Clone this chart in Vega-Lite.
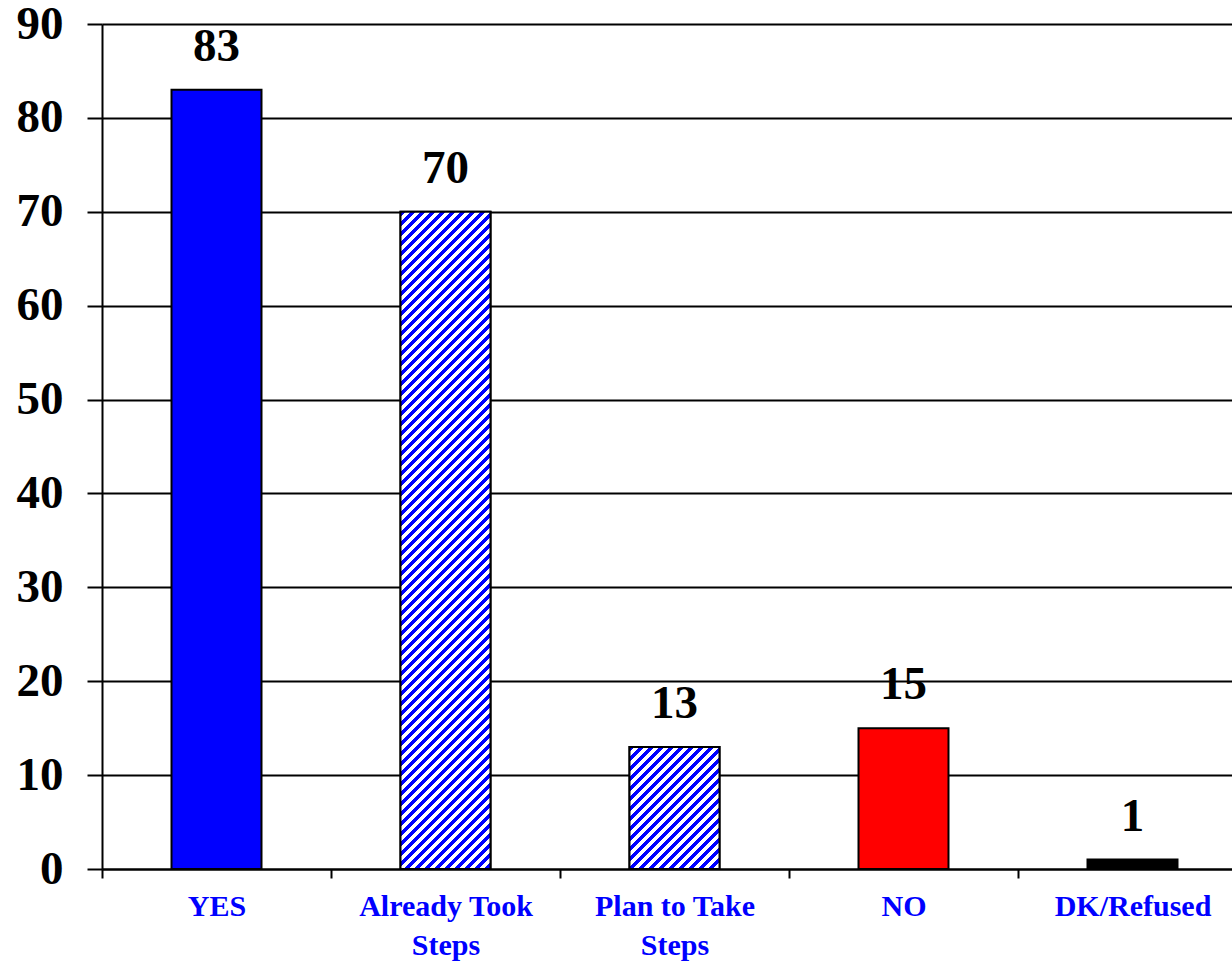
{
  "$schema": "https://vega.github.io/schema/vega-lite/v6.json",
  "autosize": {"type": "none"},
  "padding": {"left": 102, "top": 24, "right": 0, "bottom": 93},
  "width": 1130,
  "height": 845,
  "background": "white",
  "config": {"view": {"stroke": null}},
  "data": {"values": [
    {"category": "YES", "value": 83},
    {"category": "Already Took Steps", "value": 70},
    {"category": "Plan to Take Steps", "value": 13},
    {"category": "NO", "value": 15},
    {"category": "DK/Refused", "value": 1}
  ]},
  "encoding": {
    "x": {
      "field": "category", "type": "nominal", "sort": null,
      "scale": {"range": [0, 1145], "paddingInner": 0.607, "paddingOuter": 0.3035},
      "axis": {
        "title": null, "labelAngle": 0, "tickOffset": -114.5, "labelOffset": 114.5,
        "domainColor": "black", "domainWidth": 2,
        "tickColor": "black", "tickWidth": 2, "tickSize": 9,
        "labelFont": "Liberation Serif", "labelFontWeight": "bold", "labelFontSize": 30,
        "labelColor": "#0000ff", "labelPadding": 13, "labelLineHeight": 39,
        "labelExpr": "datum.value == 'Already Took Steps' ? ['Already Took', 'Steps'] : datum.value == 'Plan to Take Steps' ? ['Plan to Take', 'Steps'] : datum.label"
      }
    },
    "y": {
      "field": "value", "type": "quantitative",
      "scale": {"domain": [0, 90], "nice": false},
      "axis": {
        "title": null, "values": [0, 10, 20, 30, 40, 50, 60, 70, 80, 90],
        "grid": true, "gridColor": "black", "gridWidth": 2, "gridOpacity": 1,
        "domainColor": "black", "domainWidth": 2,
        "tickColor": "black", "tickWidth": 2, "tickSize": 15,
        "labelFont": "Liberation Serif", "labelFontWeight": "bold", "labelFontSize": 47,
        "labelColor": "black", "labelPadding": 24
      }
    }
  },
  "layer": [
    {
      "mark": {"type": "bar", "stroke": "black", "strokeWidth": 2},
      "encoding": {
        "color": {
          "field": "category", "type": "nominal", "legend": null,
          "scale": {"domain": ["YES", "Already Took Steps", "Plan to Take Steps", "NO", "DK/Refused"],
                    "range": ["#0000ff", "#ffffff", "#ffffff", "#ff0000", "#000000"]}
        }
      }
    },
    {
      "transform": [{"filter": "datum.category == 'Already Took Steps'"}],
      "mark": {"type": "bar", "stroke": "black", "strokeWidth": 2,
        "fill": {"gradient": "linear", "x1": 0, "y1": 0, "x2": 0.204528, "y2": 1.49355, "stops": [
{"offset":0,"color":"#0000ff"},{"offset":0.005,"color":"#0000ff"},{"offset":0.005,"color":"#ffffff"},{"offset":0.01,"color":"#ffffff"},
{"offset":0.01,"color":"#0000ff"},{"offset":0.015,"color":"#0000ff"},{"offset":0.015,"color":"#ffffff"},{"offset":0.02,"color":"#ffffff"},
{"offset":0.02,"color":"#0000ff"},{"offset":0.025,"color":"#0000ff"},{"offset":0.025,"color":"#ffffff"},{"offset":0.03,"color":"#ffffff"},
{"offset":0.03,"color":"#0000ff"},{"offset":0.035,"color":"#0000ff"},{"offset":0.035,"color":"#ffffff"},{"offset":0.04,"color":"#ffffff"},
{"offset":0.04,"color":"#0000ff"},{"offset":0.045,"color":"#0000ff"},{"offset":0.045,"color":"#ffffff"},{"offset":0.05,"color":"#ffffff"},
{"offset":0.05,"color":"#0000ff"},{"offset":0.055,"color":"#0000ff"},{"offset":0.055,"color":"#ffffff"},{"offset":0.06,"color":"#ffffff"},
{"offset":0.06,"color":"#0000ff"},{"offset":0.065,"color":"#0000ff"},{"offset":0.065,"color":"#ffffff"},{"offset":0.07,"color":"#ffffff"},
{"offset":0.07,"color":"#0000ff"},{"offset":0.075,"color":"#0000ff"},{"offset":0.075,"color":"#ffffff"},{"offset":0.08,"color":"#ffffff"},
{"offset":0.08,"color":"#0000ff"},{"offset":0.085,"color":"#0000ff"},{"offset":0.085,"color":"#ffffff"},{"offset":0.09,"color":"#ffffff"},
{"offset":0.09,"color":"#0000ff"},{"offset":0.095,"color":"#0000ff"},{"offset":0.095,"color":"#ffffff"},{"offset":0.10,"color":"#ffffff"},
{"offset":0.10,"color":"#0000ff"},{"offset":0.105,"color":"#0000ff"},{"offset":0.105,"color":"#ffffff"},{"offset":0.11,"color":"#ffffff"},
{"offset":0.11,"color":"#0000ff"},{"offset":0.115,"color":"#0000ff"},{"offset":0.115,"color":"#ffffff"},{"offset":0.12,"color":"#ffffff"},
{"offset":0.12,"color":"#0000ff"},{"offset":0.125,"color":"#0000ff"},{"offset":0.125,"color":"#ffffff"},{"offset":0.13,"color":"#ffffff"},
{"offset":0.13,"color":"#0000ff"},{"offset":0.135,"color":"#0000ff"},{"offset":0.135,"color":"#ffffff"},{"offset":0.14,"color":"#ffffff"},
{"offset":0.14,"color":"#0000ff"},{"offset":0.145,"color":"#0000ff"},{"offset":0.145,"color":"#ffffff"},{"offset":0.15,"color":"#ffffff"},
{"offset":0.15,"color":"#0000ff"},{"offset":0.155,"color":"#0000ff"},{"offset":0.155,"color":"#ffffff"},{"offset":0.16,"color":"#ffffff"},
{"offset":0.16,"color":"#0000ff"},{"offset":0.165,"color":"#0000ff"},{"offset":0.165,"color":"#ffffff"},{"offset":0.17,"color":"#ffffff"},
{"offset":0.17,"color":"#0000ff"},{"offset":0.175,"color":"#0000ff"},{"offset":0.175,"color":"#ffffff"},{"offset":0.18,"color":"#ffffff"},
{"offset":0.18,"color":"#0000ff"},{"offset":0.185,"color":"#0000ff"},{"offset":0.185,"color":"#ffffff"},{"offset":0.19,"color":"#ffffff"},
{"offset":0.19,"color":"#0000ff"},{"offset":0.195,"color":"#0000ff"},{"offset":0.195,"color":"#ffffff"},{"offset":0.20,"color":"#ffffff"},
{"offset":0.20,"color":"#0000ff"},{"offset":0.205,"color":"#0000ff"},{"offset":0.205,"color":"#ffffff"},{"offset":0.21,"color":"#ffffff"},
{"offset":0.21,"color":"#0000ff"},{"offset":0.215,"color":"#0000ff"},{"offset":0.215,"color":"#ffffff"},{"offset":0.22,"color":"#ffffff"},
{"offset":0.22,"color":"#0000ff"},{"offset":0.225,"color":"#0000ff"},{"offset":0.225,"color":"#ffffff"},{"offset":0.23,"color":"#ffffff"},
{"offset":0.23,"color":"#0000ff"},{"offset":0.235,"color":"#0000ff"},{"offset":0.235,"color":"#ffffff"},{"offset":0.24,"color":"#ffffff"},
{"offset":0.24,"color":"#0000ff"},{"offset":0.245,"color":"#0000ff"},{"offset":0.245,"color":"#ffffff"},{"offset":0.25,"color":"#ffffff"},
{"offset":0.25,"color":"#0000ff"},{"offset":0.255,"color":"#0000ff"},{"offset":0.255,"color":"#ffffff"},{"offset":0.26,"color":"#ffffff"},
{"offset":0.26,"color":"#0000ff"},{"offset":0.265,"color":"#0000ff"},{"offset":0.265,"color":"#ffffff"},{"offset":0.27,"color":"#ffffff"},
{"offset":0.27,"color":"#0000ff"},{"offset":0.275,"color":"#0000ff"},{"offset":0.275,"color":"#ffffff"},{"offset":0.28,"color":"#ffffff"},
{"offset":0.28,"color":"#0000ff"},{"offset":0.285,"color":"#0000ff"},{"offset":0.285,"color":"#ffffff"},{"offset":0.29,"color":"#ffffff"},
{"offset":0.29,"color":"#0000ff"},{"offset":0.295,"color":"#0000ff"},{"offset":0.295,"color":"#ffffff"},{"offset":0.30,"color":"#ffffff"},
{"offset":0.30,"color":"#0000ff"},{"offset":0.305,"color":"#0000ff"},{"offset":0.305,"color":"#ffffff"},{"offset":0.31,"color":"#ffffff"},
{"offset":0.31,"color":"#0000ff"},{"offset":0.315,"color":"#0000ff"},{"offset":0.315,"color":"#ffffff"},{"offset":0.32,"color":"#ffffff"},
{"offset":0.32,"color":"#0000ff"},{"offset":0.325,"color":"#0000ff"},{"offset":0.325,"color":"#ffffff"},{"offset":0.33,"color":"#ffffff"},
{"offset":0.33,"color":"#0000ff"},{"offset":0.335,"color":"#0000ff"},{"offset":0.335,"color":"#ffffff"},{"offset":0.34,"color":"#ffffff"},
{"offset":0.34,"color":"#0000ff"},{"offset":0.345,"color":"#0000ff"},{"offset":0.345,"color":"#ffffff"},{"offset":0.35,"color":"#ffffff"},
{"offset":0.35,"color":"#0000ff"},{"offset":0.355,"color":"#0000ff"},{"offset":0.355,"color":"#ffffff"},{"offset":0.36,"color":"#ffffff"},
{"offset":0.36,"color":"#0000ff"},{"offset":0.365,"color":"#0000ff"},{"offset":0.365,"color":"#ffffff"},{"offset":0.37,"color":"#ffffff"},
{"offset":0.37,"color":"#0000ff"},{"offset":0.375,"color":"#0000ff"},{"offset":0.375,"color":"#ffffff"},{"offset":0.38,"color":"#ffffff"},
{"offset":0.38,"color":"#0000ff"},{"offset":0.385,"color":"#0000ff"},{"offset":0.385,"color":"#ffffff"},{"offset":0.39,"color":"#ffffff"},
{"offset":0.39,"color":"#0000ff"},{"offset":0.395,"color":"#0000ff"},{"offset":0.395,"color":"#ffffff"},{"offset":0.40,"color":"#ffffff"},
{"offset":0.40,"color":"#0000ff"},{"offset":0.405,"color":"#0000ff"},{"offset":0.405,"color":"#ffffff"},{"offset":0.41,"color":"#ffffff"},
{"offset":0.41,"color":"#0000ff"},{"offset":0.415,"color":"#0000ff"},{"offset":0.415,"color":"#ffffff"},{"offset":0.42,"color":"#ffffff"},
{"offset":0.42,"color":"#0000ff"},{"offset":0.425,"color":"#0000ff"},{"offset":0.425,"color":"#ffffff"},{"offset":0.43,"color":"#ffffff"},
{"offset":0.43,"color":"#0000ff"},{"offset":0.435,"color":"#0000ff"},{"offset":0.435,"color":"#ffffff"},{"offset":0.44,"color":"#ffffff"},
{"offset":0.44,"color":"#0000ff"},{"offset":0.445,"color":"#0000ff"},{"offset":0.445,"color":"#ffffff"},{"offset":0.45,"color":"#ffffff"},
{"offset":0.45,"color":"#0000ff"},{"offset":0.455,"color":"#0000ff"},{"offset":0.455,"color":"#ffffff"},{"offset":0.46,"color":"#ffffff"},
{"offset":0.46,"color":"#0000ff"},{"offset":0.465,"color":"#0000ff"},{"offset":0.465,"color":"#ffffff"},{"offset":0.47,"color":"#ffffff"},
{"offset":0.47,"color":"#0000ff"},{"offset":0.475,"color":"#0000ff"},{"offset":0.475,"color":"#ffffff"},{"offset":0.48,"color":"#ffffff"},
{"offset":0.48,"color":"#0000ff"},{"offset":0.485,"color":"#0000ff"},{"offset":0.485,"color":"#ffffff"},{"offset":0.49,"color":"#ffffff"},
{"offset":0.49,"color":"#0000ff"},{"offset":0.495,"color":"#0000ff"},{"offset":0.495,"color":"#ffffff"},{"offset":0.50,"color":"#ffffff"},
{"offset":0.50,"color":"#0000ff"},{"offset":0.505,"color":"#0000ff"},{"offset":0.505,"color":"#ffffff"},{"offset":0.51,"color":"#ffffff"},
{"offset":0.51,"color":"#0000ff"},{"offset":0.515,"color":"#0000ff"},{"offset":0.515,"color":"#ffffff"},{"offset":0.52,"color":"#ffffff"},
{"offset":0.52,"color":"#0000ff"},{"offset":0.525,"color":"#0000ff"},{"offset":0.525,"color":"#ffffff"},{"offset":0.53,"color":"#ffffff"},
{"offset":0.53,"color":"#0000ff"},{"offset":0.535,"color":"#0000ff"},{"offset":0.535,"color":"#ffffff"},{"offset":0.54,"color":"#ffffff"},
{"offset":0.54,"color":"#0000ff"},{"offset":0.545,"color":"#0000ff"},{"offset":0.545,"color":"#ffffff"},{"offset":0.55,"color":"#ffffff"},
{"offset":0.55,"color":"#0000ff"},{"offset":0.555,"color":"#0000ff"},{"offset":0.555,"color":"#ffffff"},{"offset":0.56,"color":"#ffffff"},
{"offset":0.56,"color":"#0000ff"},{"offset":0.565,"color":"#0000ff"},{"offset":0.565,"color":"#ffffff"},{"offset":0.57,"color":"#ffffff"},
{"offset":0.57,"color":"#0000ff"},{"offset":0.575,"color":"#0000ff"},{"offset":0.575,"color":"#ffffff"},{"offset":0.58,"color":"#ffffff"},
{"offset":0.58,"color":"#0000ff"},{"offset":0.585,"color":"#0000ff"},{"offset":0.585,"color":"#ffffff"},{"offset":0.59,"color":"#ffffff"},
{"offset":0.59,"color":"#0000ff"},{"offset":0.595,"color":"#0000ff"},{"offset":0.595,"color":"#ffffff"},{"offset":0.60,"color":"#ffffff"},
{"offset":0.60,"color":"#0000ff"},{"offset":0.605,"color":"#0000ff"},{"offset":0.605,"color":"#ffffff"},{"offset":0.61,"color":"#ffffff"},
{"offset":0.61,"color":"#0000ff"},{"offset":0.615,"color":"#0000ff"},{"offset":0.615,"color":"#ffffff"},{"offset":0.62,"color":"#ffffff"},
{"offset":0.62,"color":"#0000ff"},{"offset":0.625,"color":"#0000ff"},{"offset":0.625,"color":"#ffffff"},{"offset":0.63,"color":"#ffffff"},
{"offset":0.63,"color":"#0000ff"},{"offset":0.635,"color":"#0000ff"},{"offset":0.635,"color":"#ffffff"},{"offset":0.64,"color":"#ffffff"},
{"offset":0.64,"color":"#0000ff"},{"offset":0.645,"color":"#0000ff"},{"offset":0.645,"color":"#ffffff"},{"offset":0.65,"color":"#ffffff"},
{"offset":0.65,"color":"#0000ff"},{"offset":0.655,"color":"#0000ff"},{"offset":0.655,"color":"#ffffff"},{"offset":0.66,"color":"#ffffff"},
{"offset":0.66,"color":"#0000ff"},{"offset":0.665,"color":"#0000ff"},{"offset":0.665,"color":"#ffffff"},{"offset":0.67,"color":"#ffffff"},
{"offset":0.67,"color":"#0000ff"},{"offset":0.675,"color":"#0000ff"},{"offset":0.675,"color":"#ffffff"},{"offset":0.68,"color":"#ffffff"},
{"offset":0.68,"color":"#0000ff"},{"offset":0.685,"color":"#0000ff"},{"offset":0.685,"color":"#ffffff"},{"offset":0.69,"color":"#ffffff"},
{"offset":0.69,"color":"#0000ff"},{"offset":0.695,"color":"#0000ff"},{"offset":0.695,"color":"#ffffff"},{"offset":0.70,"color":"#ffffff"},
{"offset":0.70,"color":"#0000ff"},{"offset":0.705,"color":"#0000ff"},{"offset":0.705,"color":"#ffffff"},{"offset":0.71,"color":"#ffffff"},
{"offset":0.71,"color":"#0000ff"},{"offset":0.715,"color":"#0000ff"},{"offset":0.715,"color":"#ffffff"},{"offset":0.72,"color":"#ffffff"},
{"offset":0.72,"color":"#0000ff"},{"offset":0.725,"color":"#0000ff"},{"offset":0.725,"color":"#ffffff"},{"offset":0.73,"color":"#ffffff"},
{"offset":0.73,"color":"#0000ff"},{"offset":0.735,"color":"#0000ff"},{"offset":0.735,"color":"#ffffff"},{"offset":0.74,"color":"#ffffff"},
{"offset":0.74,"color":"#0000ff"},{"offset":0.745,"color":"#0000ff"},{"offset":0.745,"color":"#ffffff"},{"offset":0.75,"color":"#ffffff"},
{"offset":1,"color":"#ffffff"}
        ]}
      }
    },
    {
      "transform": [{"filter": "datum.category == 'Plan to Take Steps'"}],
      "mark": {"type": "bar", "stroke": "black", "strokeWidth": 2,
        "fill": {"gradient": "linear", "x1": 0, "y1": 0, "x2": 3.91338, "y2": 5.30742, "stops": [
{"offset":0,"color":"#0000ff"},{"offset":0.005,"color":"#0000ff"},{"offset":0.005,"color":"#ffffff"},{"offset":0.01,"color":"#ffffff"},
{"offset":0.01,"color":"#0000ff"},{"offset":0.015,"color":"#0000ff"},{"offset":0.015,"color":"#ffffff"},{"offset":0.02,"color":"#ffffff"},
{"offset":0.02,"color":"#0000ff"},{"offset":0.025,"color":"#0000ff"},{"offset":0.025,"color":"#ffffff"},{"offset":0.03,"color":"#ffffff"},
{"offset":0.03,"color":"#0000ff"},{"offset":0.035,"color":"#0000ff"},{"offset":0.035,"color":"#ffffff"},{"offset":0.04,"color":"#ffffff"},
{"offset":0.04,"color":"#0000ff"},{"offset":0.045,"color":"#0000ff"},{"offset":0.045,"color":"#ffffff"},{"offset":0.05,"color":"#ffffff"},
{"offset":0.05,"color":"#0000ff"},{"offset":0.055,"color":"#0000ff"},{"offset":0.055,"color":"#ffffff"},{"offset":0.06,"color":"#ffffff"},
{"offset":0.06,"color":"#0000ff"},{"offset":0.065,"color":"#0000ff"},{"offset":0.065,"color":"#ffffff"},{"offset":0.07,"color":"#ffffff"},
{"offset":0.07,"color":"#0000ff"},{"offset":0.075,"color":"#0000ff"},{"offset":0.075,"color":"#ffffff"},{"offset":0.08,"color":"#ffffff"},
{"offset":0.08,"color":"#0000ff"},{"offset":0.085,"color":"#0000ff"},{"offset":0.085,"color":"#ffffff"},{"offset":0.09,"color":"#ffffff"},
{"offset":0.09,"color":"#0000ff"},{"offset":0.095,"color":"#0000ff"},{"offset":0.095,"color":"#ffffff"},{"offset":0.10,"color":"#ffffff"},
{"offset":0.10,"color":"#0000ff"},{"offset":0.105,"color":"#0000ff"},{"offset":0.105,"color":"#ffffff"},{"offset":0.11,"color":"#ffffff"},
{"offset":0.11,"color":"#0000ff"},{"offset":0.115,"color":"#0000ff"},{"offset":0.115,"color":"#ffffff"},{"offset":0.12,"color":"#ffffff"},
{"offset":0.12,"color":"#0000ff"},{"offset":0.125,"color":"#0000ff"},{"offset":0.125,"color":"#ffffff"},{"offset":0.13,"color":"#ffffff"},
{"offset":0.13,"color":"#0000ff"},{"offset":0.135,"color":"#0000ff"},{"offset":0.135,"color":"#ffffff"},{"offset":0.14,"color":"#ffffff"},
{"offset":0.14,"color":"#0000ff"},{"offset":0.145,"color":"#0000ff"},{"offset":0.145,"color":"#ffffff"},{"offset":0.15,"color":"#ffffff"},
{"offset":0.15,"color":"#0000ff"},{"offset":0.155,"color":"#0000ff"},{"offset":0.155,"color":"#ffffff"},{"offset":0.16,"color":"#ffffff"},
{"offset":0.16,"color":"#0000ff"},{"offset":0.165,"color":"#0000ff"},{"offset":0.165,"color":"#ffffff"},{"offset":0.17,"color":"#ffffff"},
{"offset":0.17,"color":"#0000ff"},{"offset":0.175,"color":"#0000ff"},{"offset":0.175,"color":"#ffffff"},{"offset":0.18,"color":"#ffffff"},
{"offset":0.18,"color":"#0000ff"},{"offset":0.185,"color":"#0000ff"},{"offset":0.185,"color":"#ffffff"},{"offset":0.19,"color":"#ffffff"},
{"offset":0.19,"color":"#0000ff"},{"offset":0.195,"color":"#0000ff"},{"offset":0.195,"color":"#ffffff"},{"offset":0.20,"color":"#ffffff"},
{"offset":0.20,"color":"#0000ff"},{"offset":0.205,"color":"#0000ff"},{"offset":0.205,"color":"#ffffff"},{"offset":0.21,"color":"#ffffff"},
{"offset":0.21,"color":"#0000ff"},{"offset":0.215,"color":"#0000ff"},{"offset":0.215,"color":"#ffffff"},{"offset":0.22,"color":"#ffffff"},
{"offset":1,"color":"#ffffff"}
        ]}
      }
    },
    {
      "mark": {"type": "text", "font": "Liberation Serif", "fontWeight": "bold", "fontSize": 47,
               "color": "black", "baseline": "alphabetic", "dy": -29},
      "encoding": {"text": {"field": "value", "type": "quantitative"}}
    }
  ]
}
